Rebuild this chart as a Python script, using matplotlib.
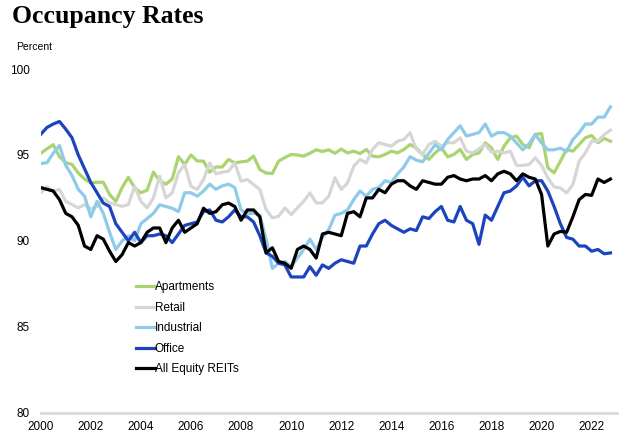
import numpy as np
import matplotlib.pyplot as plt

# quarterly occupancy, 2000Q1 .. 2022Q4
years = 2000 + np.arange(92) / 4

apartments = [95.1, 95.35, 95.6, 94.9, 94.55, 94.45, 93.95, 93.6,
              93.37, 93.41, 93.41, 92.7, 92.3, 93.1, 93.7, 93.1,
              92.8, 92.95, 94.0, 93.5, 93.3, 93.6, 94.9, 94.45,
              95.0, 94.65, 94.64, 94.0, 94.3, 94.3, 94.74, 94.54,
              94.6, 94.64, 94.93, 94.15, 93.95, 93.92, 94.64, 94.85,
              95.03, 95.0, 94.93, 95.1, 95.3, 95.2, 95.3, 95.1,
              95.34, 95.12, 95.22, 95.08, 95.32, 94.93, 94.89, 95.03,
              95.22, 95.12, 95.32, 95.61, 95.4, 95.03, 94.74, 95.12,
              95.42, 94.89, 95.03, 95.32, 94.74, 95.03, 95.12, 95.71,
              95.4, 94.74, 95.51, 96.0, 96.1, 95.61, 95.42, 96.19,
              96.25, 94.25, 93.96, 94.64, 95.32, 95.22, 95.61, 96.0,
              96.13, 95.71, 95.96, 95.8]

retail = [92.8, 93.14, 92.9, 92.99, 92.3, 92.11, 91.92, 92.11,
          91.86, 92.01, 92.5, 92.21, 92.11, 92.01, 92.11, 93.18,
          92.3, 91.92, 92.5, 93.76, 92.5, 92.79, 93.96, 94.44,
          93.18, 92.99, 93.57, 94.54, 93.9, 94.0, 94.05, 94.54,
          93.47, 93.57, 93.28, 92.99, 91.82, 91.34, 91.43, 91.92,
          91.53, 91.92, 92.3, 92.79, 92.21, 92.21, 92.6, 93.67,
          92.99, 93.37, 94.34, 94.74, 94.54, 95.32, 95.71, 95.61,
          95.51, 95.8, 95.9, 96.29, 95.32, 95.03, 95.61, 95.8,
          95.51, 95.71, 95.71, 96.0, 95.22, 95.12, 95.36, 95.61,
          95.16, 95.22, 95.12, 95.22, 94.39, 94.39, 94.44, 94.83,
          94.39, 93.67, 93.14, 93.08, 92.79, 93.28, 94.64, 95.12,
          95.8, 95.8, 96.19, 96.44]

industrial = [94.5, 94.55, 95.1, 95.55, 94.4, 93.8, 93.0, 92.6,
              91.4, 92.3, 91.6, 90.5, 89.5, 90.0, 90.3, 90.0,
              91.0, 91.3, 91.6, 92.1, 92.0, 91.9, 91.7, 92.8,
              92.8, 92.6, 92.9, 93.3, 93.0, 93.2, 93.3, 93.1,
              91.8, 91.6, 91.6, 91.5, 90.1, 88.4, 88.7, 88.8,
              88.5, 89.0, 89.5, 90.1, 89.5, 90.2, 90.65, 91.5,
              91.6, 91.8, 92.4, 92.9, 92.6, 93.0, 93.1, 93.5,
              93.4, 93.9, 94.3, 94.9, 94.7, 94.6, 95.1, 95.6,
              95.3, 95.9, 96.3, 96.7, 96.1, 96.2, 96.3, 96.8,
              96.1, 96.3, 96.3, 96.1, 95.7, 95.3, 95.65, 96.2,
              95.7, 95.3, 95.3, 95.4, 95.2, 95.9, 96.3, 96.8,
              96.8, 97.2, 97.2, 97.8]

office = [96.2, 96.6, 96.8, 96.95, 96.5, 96.0, 95.0, 94.2,
          93.4, 92.8, 92.2, 92.0, 91.0, 90.5, 90.0, 90.5,
          89.9, 90.3, 90.3, 90.4, 90.3, 89.9, 90.4, 90.9,
          91.0, 91.1, 91.7, 91.8, 91.2, 91.1, 91.4, 91.8,
          91.4, 91.4, 91.1, 90.3, 89.3, 89.1, 88.7, 88.6,
          87.9, 87.9, 87.9, 88.5, 88.0, 88.6, 88.4, 88.7,
          88.9, 88.8, 88.7, 89.7, 89.7, 90.4, 91.0, 91.2,
          90.9, 90.7, 90.5, 90.7, 90.6, 91.4, 91.3, 91.7,
          92.0, 91.2, 91.1, 92.0, 91.2, 91.0, 89.8, 91.5,
          91.2, 92.0, 92.8, 92.9, 93.2, 93.7, 93.2, 93.5,
          93.5, 92.9, 92.0, 91.0, 90.2, 90.1, 89.7, 89.7,
          89.4, 89.5, 89.25, 89.3]

all_reits = [93.1, 93.0, 92.9, 92.4, 91.6, 91.4, 90.9, 89.7,
             89.5, 90.3, 90.1, 89.4, 88.8, 89.2, 89.9, 89.7,
             89.9, 90.5, 90.75, 90.75, 89.9, 90.75, 91.2, 90.5,
             90.75, 91.0, 91.9, 91.6, 91.7, 92.1, 92.2, 92.0,
             91.2, 91.8, 91.8, 91.4, 89.3, 89.6, 88.8, 88.7,
             88.4, 89.5, 89.7, 89.5, 89.0, 90.4, 90.5, 90.4,
             90.3, 91.6, 91.7, 91.4, 92.5, 92.5, 93.0, 92.8,
             93.3, 93.5, 93.5, 93.2, 93.0, 93.5, 93.4, 93.3,
             93.3, 93.7, 93.8, 93.6, 93.5, 93.6, 93.6, 93.8,
             93.5, 93.9, 94.05, 93.9, 93.5, 93.9, 93.7, 93.6,
             92.7, 89.7, 90.4, 90.55, 90.5, 91.4, 92.4, 92.7,
             92.65, 93.6, 93.4, 93.6]

labels = ["Apartments", "Retail", "Industrial", "Office", "All Equity REITs"]
colors = ["#a9d46f", "#d6d6d6", "#8ecbea", "#1c44be", "#000000"]

plt.rcParams['font.family'] = ['Liberation Sans', 'DejaVu Sans']

fig = plt.figure(figsize=(6.4, 4.37), dpi=100)
ax = fig.add_axes([0.0636, 0.0556, 0.9, 0.7864])

for series, lab, col in zip([apartments, retail, industrial, office, all_reits], labels, colors):
    ax.plot(years, series, color=col, lw=2.3, label=lab)

ax.set_xlim(2000, 2023)
ax.set_ylim(80, 100)
ax.set_xticks(np.arange(2000, 2023, 2))
ax.set_yticks([80, 85, 90, 95, 100])
ax.tick_params(length=0, labelsize=8.5, colors="#000000")
ax.tick_params(axis='y', pad=8)
ax.tick_params(axis='x', pad=6)
for s in ["top", "right", "left"]:
    ax.spines[s].set_visible(False)
ax.spines["bottom"].set_color("#d9d9d9")
ax.spines["bottom"].set_linewidth(2)

fig.text(0.019, 0.937, "Occupancy Rates", fontsize=18.5, fontweight="bold",
         family="Liberation Serif", va="bottom")
fig.text(0.025, 0.893, "Percent", fontsize=7.5, va="center")

ax.legend(loc="upper left", bbox_to_anchor=(0.212, 0.356), bbox_transform=fig.transFigure,
          frameon=False, fontsize=8.5, handlelength=1.6, handletextpad=0.0,
          labelspacing=0.72, borderpad=0, borderaxespad=0)

fig.savefig("out.png", dpi=100)
